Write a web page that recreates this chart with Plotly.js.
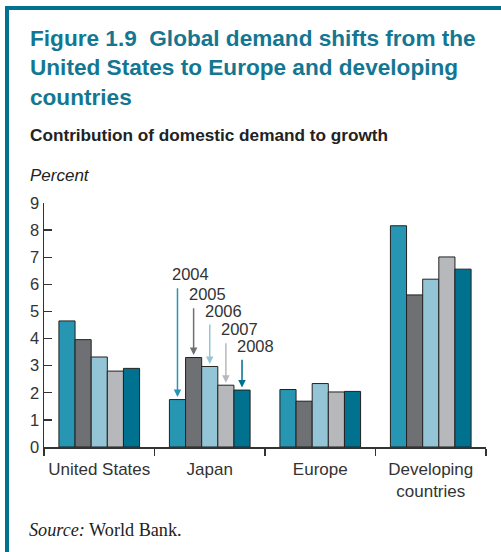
<!DOCTYPE html>
<html>
<head>
<meta charset="utf-8">
<script src="https://cdn.plot.ly/plotly-3.0.1.min.js"></script>
<style>html,body{margin:0;padding:0;background:#fff;}#chart{width:501px;height:552px;}</style>
</head>
<body>
<div id="chart"></div>
<script>
// ---- data ----
const categories = ['United States', 'Japan', 'Europe', 'Developing<br>countries'];
const years = ['2004', '2005', '2006', '2007', '2008'];
const v2004 = [4.65, 1.75, 2.12, 8.16];
const v2005 = [3.96, 3.30, 1.69, 5.61];
const v2006 = [3.32, 2.97, 2.34, 6.19];
const v2007 = [2.80, 2.28, 2.03, 7.01];
const v2008 = [2.90, 2.10, 2.05, 6.56];
const series = [v2004, v2005, v2006, v2007, v2008];

// ---- styles / layout constants ----
const colors = ['#2796b2', '#6e7074', '#93c5d7', '#b6b8bb', '#00718e'];
const W = 501, H = 552;
const M = {l: 44, r: 15, t: 203, b: 105};
const plotW = W - M.l - M.r, plotH = H - M.t - M.b;
const yMax = 9;
const pxPerUnit = plotH / yMax;
const bargap = 0.27;
const barW = (1 - bargap) / years.length;
const X = px => (px - M.l) / plotW;
const Y = py => (H - M.b - py) / plotH;
const teal = '#00728f';
const FONT = 'Liberation Sans, Arial, Helvetica, sans-serif';

// arrow tails / label heights (pixels above the zero line) for the Japan call-outs
const tailPx = [160.3, 140.3, 124, 105.3, 88.7];
const annoCat = 1; // Japan

const traces = years.map((yr, i) => ({
  type: 'bar',
  name: yr,
  x: categories,
  y: series[i],
  marker: {color: colors[i], line: {color: '#222', width: 1}},
  hoverinfo: 'skip'
}));

const annotations = [];
years.forEach((yr, i) => {
  const xc = annoCat + (i - (years.length - 1) / 2) * barW;
  annotations.push({
    x: xc, y: series[i][annoCat], xref: 'x', yref: 'y',
    axref: 'x', ayref: 'y', ax: xc, ay: tailPx[i] / pxPerUnit,
    text: '', showarrow: true, arrowhead: 2, arrowsize: 1, arrowwidth: 1.5,
    arrowcolor: colors[i], standoff: 2.5
  });
  annotations.push({
    x: xc, y: (tailPx[i] + 12.5) / pxPerUnit, xref: 'x', yref: 'y',
    xshift: 13.5, xanchor: 'center', yanchor: 'middle', showarrow: false,
    text: yr, font: {family: FONT, size: 16.5, color: '#333'}
  });
});

// title block
annotations.push({
  xref: 'paper', yref: 'paper', x: X(28), y: Y(68), xanchor: 'left', yanchor: 'middle',
  align: 'left', showarrow: false,
  text: '<b>Figure 1.9&nbsp;&nbsp;Global demand shifts from the<br>United States to Europe and developing<br>countries</b>',
  font: {family: FONT, size: 22.6, color: '#137792'}
});
annotations.push({
  xref: 'paper', yref: 'paper', x: X(28), y: Y(135), xanchor: 'left', yanchor: 'middle',
  showarrow: false, text: '<b>Contribution of domestic demand to growth</b>',
  font: {family: FONT, size: 17.2, color: '#222'}
});
annotations.push({
  xref: 'paper', yref: 'paper', x: X(28), y: Y(175), xanchor: 'left', yanchor: 'middle',
  showarrow: false, text: '<i>Percent</i>',
  font: {family: FONT, size: 17, color: '#222'}
});
annotations.push({
  xref: 'paper', yref: 'paper', x: X(27), y: Y(530), xanchor: 'left', yanchor: 'middle',
  showarrow: false, text: '<i>Source:</i> World Bank.',
  font: {family: 'Liberation Serif, Times New Roman, serif', size: 18.2, color: '#222'}
});

const shapes = [
  {type: 'rect', xref: 'paper', yref: 'paper', x0: X(5), x1: X(501), y0: Y(10), y1: Y(6),
   fillcolor: teal, line: {width: 0}, layer: 'above'},
  {type: 'rect', xref: 'paper', yref: 'paper', x0: X(5), x1: X(9), y0: Y(552), y1: Y(6),
   fillcolor: teal, line: {width: 0}, layer: 'above'}
];

const layout = {
  width: W, height: H,
  margin: M,
  paper_bgcolor: '#fff', plot_bgcolor: '#fff',
  showlegend: false,
  barmode: 'group', bargap: bargap, bargroupgap: 0,
  font: {family: FONT, size: 16, color: '#333'},
  xaxis: {
    type: 'category', tickson: 'boundaries', ticks: 'outside', ticklen: 7, tickwidth: 1.3,
    tickcolor: '#333', showline: true, linecolor: '#333', linewidth: 1.5, tickangle: 0,
    showgrid: false, zeroline: false, fixedrange: true, ticklabelstandoff: 6,
    tickfont: {family: FONT, size: 17, color: '#333'}
  },
  yaxis: {
    range: [0, yMax], dtick: 1, tick0: 0, ticks: 'inside', ticklen: 8, tickwidth: 1.3,
    tickcolor: '#333', showline: true, linecolor: '#333', linewidth: 1.5,
    showgrid: false, zeroline: false, fixedrange: true,
    tickfont: {family: FONT, size: 16.5, color: '#333'}
  },
  annotations: annotations,
  shapes: shapes
};

Plotly.newPlot('chart', traces, layout, {staticPlot: true, displayModeBar: false});
</script>
</body>
</html>
